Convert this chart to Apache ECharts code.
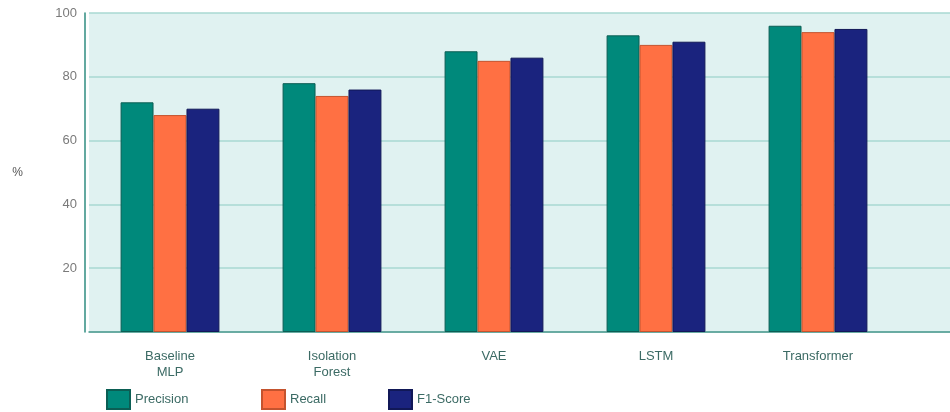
<!DOCTYPE html>
<html>
<head>
<meta charset="utf-8">
<script src="https://cdn.jsdelivr.net/npm/echarts@6/dist/echarts.min.js"></script>
<style>
  html, body { margin: 0; padding: 0; background: #ffffff; }
  #chart { width: 950px; height: 412px; }
</style>
</head>
<body>
<div id="chart"></div>
<script>
// model names (last empty slot keeps the plot running off the right edge)
var categories = ['Baseline\nMLP', 'Isolation\nForest', 'VAE', 'LSTM', 'Transformer', ''];
var precision = [72, 78, 88, 93, 96];
var recall = [68, 74, 85, 90, 94];
var f1Score = [70, 76, 86, 91, 95];
var yTicks = [0, 20, 40, 60, 80, 100];

var chart = echarts.init(document.getElementById('chart'), null, { renderer: 'canvas' });

var textFont = 'Liberation Sans';

function legendAt(name, left) {
  return {
    data: [name],
    left: left,
    top: 389,
    padding: 0,
    itemWidth: 23,
    itemHeight: 19,
    itemGap: 6,
    icon: 'rect',
    textStyle: { fontFamily: textFont, fontSize: 13, color: '#3b6a64' }
  };
}

function barSeries(name, data, color, border) {
  return {
    name: name,
    type: 'bar',
    data: data,
    barGap: '0%',
    barCategoryGap: '39%',
    itemStyle: { color: color, borderColor: border, borderWidth: 1 }
  };
}

var option = {
  backgroundColor: '#ffffff',
  animation: false,
  color: ['#00897b', '#ff7043', '#1a237e'],
  legend: [
    legendAt('Precision', 106),
    legendAt('Recall', 261),
    legendAt('F1-Score', 388)
  ],
  grid: {
    left: 89,
    top: 13,
    bottom: 80,
    width: 972,
    outerBoundsMode: 'none',
    containLabel: false,
    show: true,
    backgroundColor: '#e0f2f1',
    borderWidth: 0
  },
  xAxis: {
    type: 'category',
    data: categories,
    axisTick: { show: false },
    axisLine: { lineStyle: { color: '#4f9a90', width: 1.5 } },
    axisLabel: {
      margin: 16,
      fontFamily: textFont,
      fontSize: 13,
      lineHeight: 16,
      color: '#3b6a64'
    }
  },
  yAxis: {
    type: 'value',
    min: yTicks[0],
    max: yTicks[yTicks.length - 1],
    interval: 20,
    offset: 4,
    name: '%',
    nameLocation: 'middle',
    nameRotate: 0,
    nameGap: 62,
    nameTextStyle: { fontFamily: textFont, fontSize: 12, color: '#555555' },
    axisLine: { show: true, lineStyle: { color: '#2f8c80', width: 1.5 } },
    axisTick: { show: false },
    axisLabel: {
      margin: 8,
      fontFamily: textFont,
      fontSize: 13,
      color: '#7a7a7a',
      formatter: function (v) { return v === 0 ? '' : v; }
    },
    splitLine: { lineStyle: { color: '#a9d8d2', width: 1.5 } }
  },
  series: [
    barSeries('Precision', precision, '#00897b', '#0b5e54'),
    barSeries('Recall', recall, '#ff7043', '#c4532e'),
    barSeries('F1-Score', f1Score, '#1a237e', '#111857')
  ]
};

chart.setOption(option);
</script>
</body>
</html>
